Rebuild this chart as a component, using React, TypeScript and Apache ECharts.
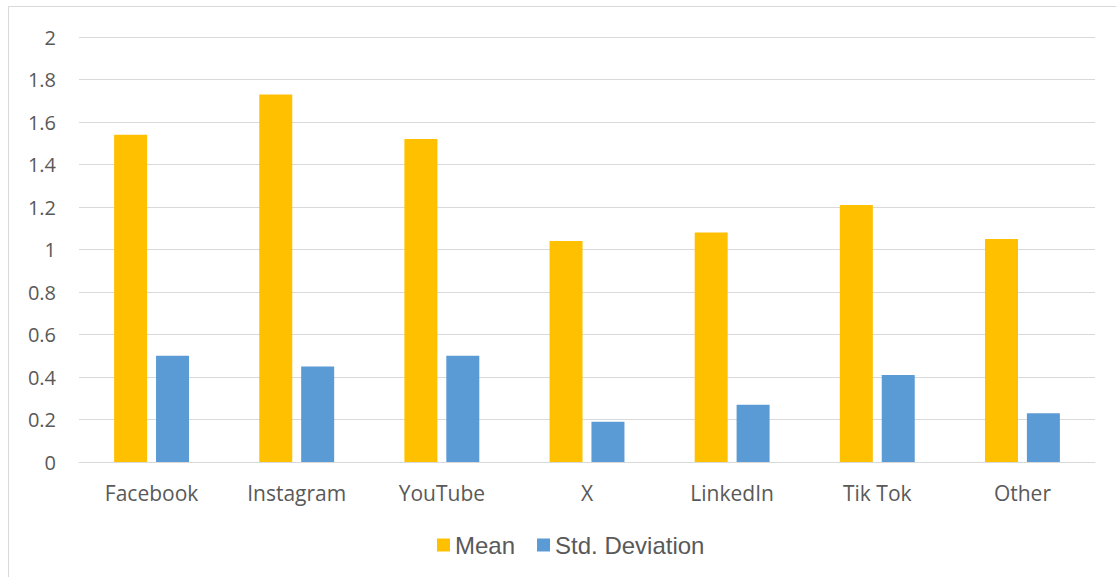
import React, { useEffect, useRef } from "react";
import * as echarts from "echarts";

const categories = ["Facebook", "Instagram", "YouTube", "X", "LinkedIn", "Tik Tok", "Other"];
const meanValues = [1.54, 1.73, 1.52, 1.04, 1.08, 1.21, 1.05];
const stdValues = [0.5, 0.45, 0.5, 0.19, 0.27, 0.41, 0.23];
const seriesNames = ["Mean", "Std. Deviation"];

export default function App() {
  const ref = useRef<HTMLDivElement>(null);
  useEffect(() => {
    if (!ref.current) return;
    const chart = echarts.init(ref.current, null, { renderer: "svg" });
    chart.setOption({
      animation: false,
      backgroundColor: "#ffffff",
      graphic: [
        {
          type: "rect",
          shape: { x: 8.5, y: 6.5, width: 1120, height: 600 },
          style: { fill: "none", stroke: "#d9d9d9", lineWidth: 1 },
          silent: true,
        },
      ],
      grid: { left: 79, right: 21, top: 37, bottom: 115 },
      legend: {
        data: seriesNames,
        top: 528,
        left: 432,
        itemWidth: 13,
        itemHeight: 13,
        itemGap: 22,
        icon: "rect",
        textStyle: { fontFamily: "Liberation Sans", fontSize: 24, color: "#595959" },
      },
      xAxis: {
        type: "category",
        data: categories,
        axisLine: { show: true, lineStyle: { color: "#d9d9d9", width: 1 } },
        axisTick: { show: false },
        axisLabel: { fontFamily: "Open Sans", fontSize: 21, color: "#595959", margin: 20 },
      },
      yAxis: {
        type: "value",
        min: 0,
        max: 2,
        interval: 0.2,
        axisLine: { show: false },
        axisTick: { show: false },
        splitLine: { lineStyle: { color: "#d9d9d9", width: 1 } },
        axisLabel: {
          fontFamily: "Open Sans",
          fontSize: 20,
          color: "#595959",
          margin: 23,
          formatter: (v: number) => String(Math.round(v * 10) / 10),
        },
      },
      series: [
        {
          name: seriesNames[0],
          type: "bar",
          data: meanValues,
          barWidth: 33,
          barGap: "27%",
          itemStyle: { color: "#ffc000" },
        },
        {
          name: seriesNames[1],
          type: "bar",
          data: stdValues,
          barWidth: 33,
          itemStyle: { color: "#5b9bd5" },
        },
      ],
    });
    return () => chart.dispose();
  }, []);
  return (
    <div
      ref={ref}
      style={{ position: "fixed", left: 0, top: 0, width: 1116, height: 577 }}
    />
  );
}
